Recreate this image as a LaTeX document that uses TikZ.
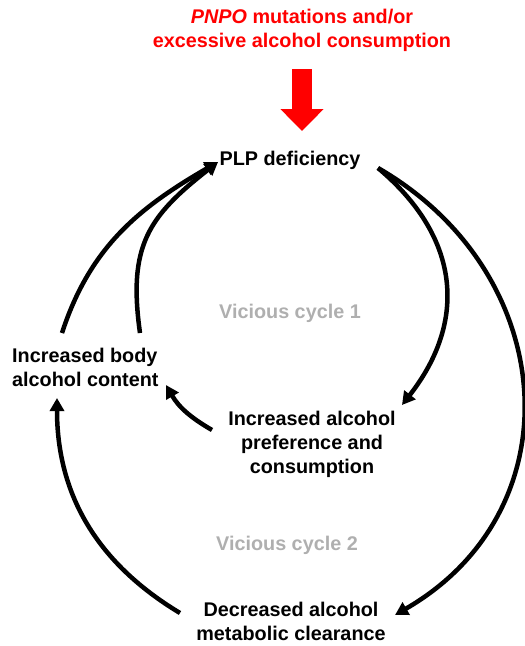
\documentclass[tikz,border=0pt]{standalone}
\usepackage{fontspec}
\setmainfont{Liberation Sans}
\usetikzlibrary{arrows.meta}
\definecolor{cyclegray}{RGB}{175,175,175}
\begin{document}
\begin{tikzpicture}[x=1pt,y=1pt,
  lbl/.style={font=\fontsize{19.8}{24}\selectfont\bfseries, inner sep=0pt, align=center},
  cyc/.style={lbl, text=cyclegray},
  conn/.style={line width=4.5pt, -{Triangle[length=13pt,width=14pt]}},
  bigarrow/.style={red, line width=20pt, -{Triangle[length=22pt,width=42pt]}}]
\useasboundingbox (0,0) rectangle (525,-646);
\node[lbl, text=red] (title) at (302,-30) {\textit{PNPO} mutations and/or\\excessive alcohol consumption};
\node[lbl] (plp) at (290,-160) {PLP deficiency};
\node[lbl, align=left, anchor=west] (body) at (12,-367) {Increased body\\alcohol content};
\node[lbl] (pref) at (312,-444) {Increased alcohol\\preference and\\consumption};
\node[lbl] (dec) at (291,-621) {Decreased alcohol\\metabolic clearance};
\node[cyc] (vc1) at (290,-313) {Vicious cycle 1};
\node[cyc] (vc2) at (287,-545) {Vicious cycle 2};
\draw[bigarrow] ([yshift=-39pt]title.center) -- ([xshift=12pt,yshift=29pt]plp.center);
\draw[conn] ([shift={(50,34)}]body.west) to[out=72,in=210] ([shift={(-72,-2)}]plp.center);
\draw[conn] ([shift={(128,34)}]body.west) to[out=98,in=218,looseness=1.2] ([shift={(-72,-2)}]plp.center);
\draw[conn] ([shift={(88,-8)}]plp.center) to[out=-40,in=52,looseness=1.15] ([shift={(90,39)}]pref.center);
\draw[conn] ([shift={(88,-8)}]plp.center) to[out=-30,in=30,looseness=1.2] ([shift={(104,6)}]dec.center);
\draw[conn] ([shift={(-111,8)}]dec.center) to[out=149,in=-90] ([shift={(45,-31)}]body.west);
\draw[conn] ([shift={(-100,14)}]pref.center) to[out=150,in=-60] ([shift={(154,-18)}]body.west);
\end{tikzpicture}
\end{document}
